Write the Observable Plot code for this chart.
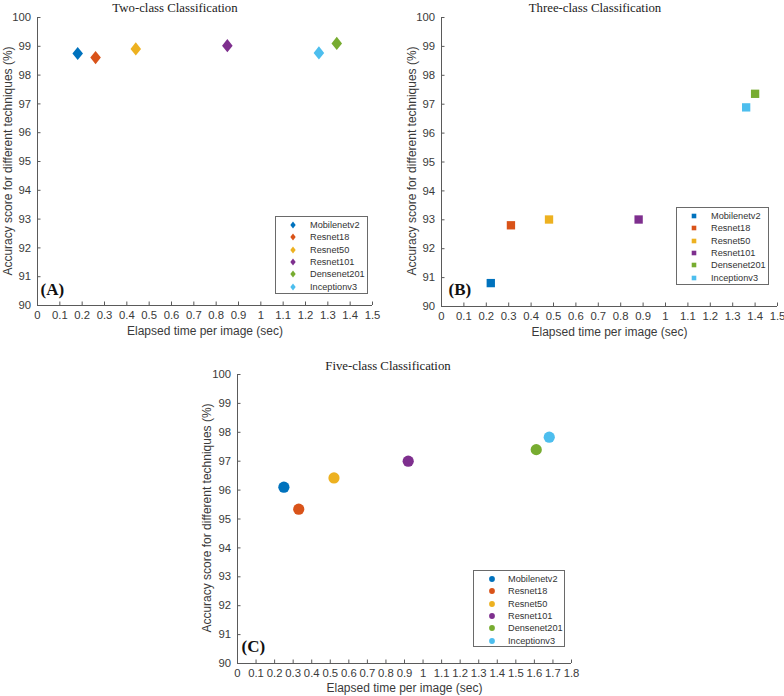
<!DOCTYPE html>
<html><head><meta charset="utf-8">
<script src="https://cdn.jsdelivr.net/npm/d3@7"></script>
<script src="https://cdn.jsdelivr.net/npm/@observablehq/plot@0.6"></script>
<style>
body{margin:0;background:#fff;}
#root{position:relative;width:784px;height:696px;overflow:hidden;font-family:"Liberation Sans",Arial,sans-serif;background:#fff;}
.panel{position:absolute;}
.title{position:absolute;font-family:"Liberation Serif","Times New Roman",serif;font-size:12.8px;color:#222;transform:translate(-50%,-50%);white-space:nowrap;line-height:1;}
.ylab{position:absolute;font-size:12px;color:#3a3a3a;white-space:nowrap;line-height:1;transform:translate(-50%,-50%) rotate(-90deg);}
.legend{position:absolute;border:1px solid #6a6a6a;background:#fff;box-sizing:border-box;font-size:9.2px;color:#333;}
.legend .row{position:absolute;left:0;right:0;height:12px;line-height:12px;white-space:nowrap;}
.legend .row svg{position:absolute;top:0;}
.legend .row span{position:absolute;}
</style></head>
<body><div id="root"></div>
<script>
// ---------- data ----------
const models = ["Mobilenetv2","Resnet18","Resnet50","Resnet101","Densenet201","Inceptionv3"];
const colors = ["#0072BD","#D95319","#EDB120","#7E2F8E","#77AC30","#4DBEEE"];

const timeTwo = [0.18, 0.26, 0.44, 0.85, 1.34, 1.26];
const accTwo  = [98.75, 98.61, 98.91, 99.02, 99.10, 98.77];

const timeThree = [0.22, 0.31, 0.48, 0.88, 1.40, 1.36];
const accThree  = [90.81, 92.81, 93.01, 93.01, 97.36, 96.89];

const timeFive = [0.25, 0.33, 0.52, 0.92, 1.61, 1.68];
const accFive  = [96.10, 95.34, 96.42, 97.00, 97.40, 97.83];

const xTicks15 = [0,0.1,0.2,0.3,0.4,0.5,0.6,0.7,0.8,0.9,1,1.1,1.2,1.3,1.4,1.5];
const xTicks18 = [0,0.1,0.2,0.3,0.4,0.5,0.6,0.7,0.8,0.9,1,1.1,1.2,1.3,1.4,1.5,1.6,1.7,1.8];
const yTicks = [90,91,92,93,94,95,96,97,98,99,100];

const titles = ["Two-class Classification","Three-class Classification","Five-class Classification"];
const panelTags = ["(A)","(B)","(C)"];
const xLabel = "Elapsed time per image (sec)";
const yLabel = "Accuracy score for different techniques (%)";

// ---------- helpers ----------
const tallDiamond = {draw(ctx, size){ const r = Math.sqrt(size/Math.PI); const h=r, w=r*0.8;
  ctx.moveTo(0,-h); ctx.lineTo(w,0); ctx.lineTo(0,h); ctx.lineTo(-w,0); ctx.closePath(); }};

const rows = (xs, ys) => models.map((m,i)=>({model:m, time:xs[i], acc:ys[i]}));
const axisCol = "#5a5a5a";
const textCol = "#3a3a3a";
const fmt = d => String(+(+d).toFixed(1));
const sans = '"Liberation Sans", Arial, sans-serif';
const root = document.getElementById("root");

function panel(cfg){
  const data = rows(cfg.xs, cfg.ys);
  const p = Plot.plot({
    width: cfg.width, height: cfg.height,
    marginLeft: cfg.ml, marginRight: cfg.mr, marginTop: cfg.mt, marginBottom: cfg.mb,
    style: {fontFamily: sans, fontSize: "11px", color: textCol, background: "transparent", overflow: "visible"},
    x: {domain: [0, cfg.xmax]},
    y: {domain: [90, 100]},
    color: {domain: models, range: colors},
    marks: [
      Plot.ruleX([0], {stroke: axisCol}),
      Plot.ruleY([90], {stroke: axisCol}),
      Plot.axisX({ticks: cfg.xticks, tickFormat: fmt, tickSize: -3.5, tickPadding: 9, stroke: axisCol, fill: textCol,
        label: null, fontSize: 11.3}),
      Plot.axisY({ticks: yTicks, tickFormat: fmt, tickSize: -3.5, tickPadding: 10, stroke: axisCol, fill: textCol,
        label: null, fontSize: 11.3}),
      Plot.text([xLabel], {frameAnchor: "bottom", textAnchor: "middle", lineAnchor: "middle", dy: cfg.xdy,
        fontSize: 12, fill: textCol}),
      Plot.dot(data, {x: "time", y: "acc", fill: "model", symbol: cfg.symbol, r: cfg.r}),
      Plot.text([panelTags[cfg.idx]], {frameAnchor: "bottom-left", textAnchor: "start", lineAnchor: "bottom",
        dx: cfg.tagDx, dy: cfg.tagDy, fontFamily: '"Liberation Serif","Times New Roman",serif', fontWeight: "bold", fontSize: 17, fill: "#111"})
    ]
  });
  const wrap = document.createElement("div");
  wrap.className = "panel";
  wrap.style.left = cfg.left + "px"; wrap.style.top = cfg.top + "px";
  wrap.appendChild(p);
  root.appendChild(wrap);

  const t = document.createElement("div");
  t.className = "title"; t.textContent = titles[cfg.idx];
  t.style.left = cfg.titleX + "px"; t.style.top = cfg.titleY + "px";
  root.appendChild(t);

  const yl = document.createElement("div");
  yl.className = "ylab"; yl.textContent = yLabel;
  yl.style.left = cfg.ylab[0] + "px"; yl.style.top = cfg.ylab[1] + "px";
  root.appendChild(yl);

  // legend
  const lg = document.createElement("div");
  lg.className = "legend";
  lg.style.left = cfg.lg[0] + "px"; lg.style.top = cfg.lg[1] + "px";
  lg.style.width = cfg.lg[2] + "px"; lg.style.height = cfg.lg[3] + "px";
  models.forEach((m,i)=>{
    const row = document.createElement("div");
    row.className = "row";
    row.style.top = (2 + i*12.35) + "px";
    let sym;
    if (cfg.legendSym === "diamond") sym = `<path d="M6,2.4 L8.7,6 L6,9.6 L3.3,6 Z" fill="${colors[i]}"/>`;
    else if (cfg.legendSym === "square") sym = `<rect x="3.7" y="3.7" width="4.6" height="4.6" fill="${colors[i]}"/>`;
    else sym = `<circle cx="6" cy="6" r="2.9" fill="${colors[i]}"/>`;
    row.innerHTML = `<svg width="12" height="12" style="left:${cfg.symX - 6}px">${sym}</svg><span style="left:${cfg.txtX}px">${m}</span>`;
    lg.appendChild(row);
  });
  root.appendChild(lg);
}

panel({idx:0, left:0, top:0, width:392, height:348, ml:37, mr:20, mt:17, mb:43, xmax:1.5, xticks:xTicks15,
  xs: timeTwo, ys: accTwo, symbol: tallDiamond, r: 6.6, xdy: 26, tagDx: 3, tagDy: -11,
  titleX: 175, titleY: 8, ylab:[8,161], lg:[275,216,93,78], symX: 17, txtX: 34, legendSym:"diamond"});

panel({idx:1, left:392, top:0, width:392, height:348, ml:49, mr:7, mt:17, mb:42, xmax:1.5, xticks:xTicks15,
  xs: timeThree, ys: accThree, symbol: "square", r: 4.7, xdy: 26, tagDx: 7, tagDy: -12,
  titleX: 595, titleY: 8, ylab:[412,161], lg:[676,207,93,78], symX: 17, txtX: 34, legendSym:"square"});

panel({idx:2, left:180, top:350, width:450, height:346, ml:57, mr:59, mt:24, mb:33, xmax:1.8, xticks:xTicks18,
  xs: timeFive, ys: accFive, symbol: "circle", r: 5.6, xdy: 25, tagDx: 4, tagDy: -12,
  titleX: 388, titleY: 366, ylab:[207,518], lg:[473,570,92,77], symX: 18, txtX: 34, legendSym:"circle"});
</script>
</body></html>
